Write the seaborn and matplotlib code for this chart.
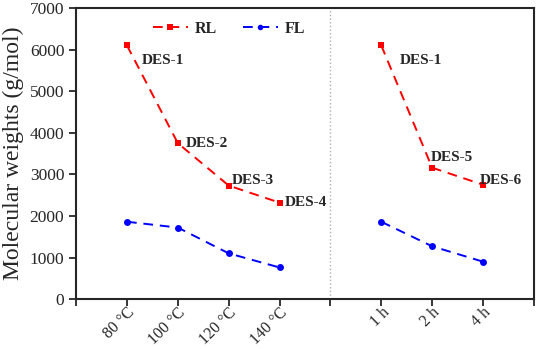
import pandas as pd
import numpy as np
import matplotlib
matplotlib.use('Agg')
import matplotlib.pyplot as plt
import seaborn as sns

# data
conditions = ['80 °C', '100 °C', '120 °C', '140 °C', '1 h', '2 h', '4 h']
positions = [0, 1, 2, 3, 5, 6, 7]
groups = ['temp', 'temp', 'temp', 'temp', 'time', 'time', 'time']
rl_values = [6100, 3750, 2730, 2320, 6100, 3160, 2750]
fl_values = [1860, 1720, 1100, 760, 1860, 1270, 900]
rl_labels = ['DES-1', 'DES-2', 'DES-3', 'DES-4', 'DES-1', 'DES-5', 'DES-6']

df = pd.concat([
    pd.DataFrame({'pos': positions, 'mw': rl_values, 'series': 'RL', 'group': groups}),
    pd.DataFrame({'pos': positions, 'mw': fl_values, 'series': 'FL', 'group': groups}),
])

sns.set_style('ticks')
plt.rcParams['font.family'] = ['Liberation Serif', 'DejaVu Serif']

fig = plt.figure(figsize=(5.36, 3.49), dpi=100)
ax = fig.add_axes([0.142, 0.143, 0.854, 0.834])

sns.lineplot(data=df, x='pos', y='mw', hue='series', style='series', units='group',
             estimator=None, palette={'RL': 'red', 'FL': 'blue'},
             markers={'RL': 's', 'FL': 'o'}, dashes={'RL': (5, 3.5), 'FL': (5, 3.5)},
             markersize=5, markeredgewidth=0, linewidth=1.4, ax=ax)

# DES labels
offsets = [(11, -11), (6, 0), (2, 4), (4, 0), (13, -11), (-1, 7), (-2, 3)]
for p, v, lab, off in zip(positions, rl_values, rl_labels, offsets):
    ax.annotate(lab, (p, v), xytext=off, textcoords='offset points',
                ha='left', va='center', fontsize=11, fontweight='bold')

ax.axvline(4, color='#b0b0b0', linestyle=':', linewidth=1.0)

ax.set_xlim(-1, 8)
ax.set_ylim(0, 7000)
ax.set_xticks(range(-1, 9))
labels = [''] * 10
for p, c in zip(positions, conditions):
    labels[p + 1] = c
ax.set_xticklabels(labels, rotation=45, ha='right', va='top',
                   rotation_mode='anchor', fontsize=11.5)
ax.set_yticks(range(0, 7001, 1000))
ax.tick_params(axis='y', labelsize=12.5)
ax.tick_params(direction='out', length=5, width=1.3)
ax.tick_params(axis='x', pad=-1)
ax.set_xlabel('')
ax.set_ylabel('Molecular weights (g/mol)', fontsize=17, labelpad=4)
for s in ax.spines.values():
    s.set_linewidth(1.5)

handles, labs = ax.get_legend_handles_labels()
leg = ax.legend(handles, labs, ncol=2, loc='upper center', bbox_to_anchor=(0.334, 1.005),
                frameon=False, prop={'weight': 'bold', 'size': 11.5}, markerscale=0.8,
                handlelength=2.2, handletextpad=0.45, columnspacing=1.6)

fig.savefig('out.png', dpi=100)
